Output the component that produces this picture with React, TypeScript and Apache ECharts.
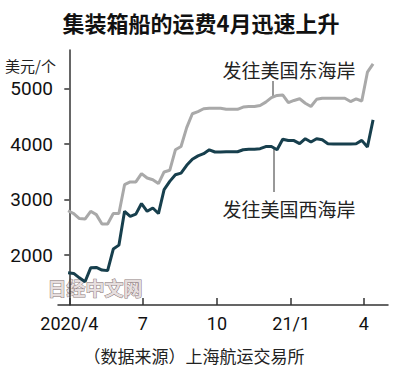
import React, { useEffect, useRef } from "react";
import * as echarts from "echarts";

// Weekly freight index (USD per container), first week ~2020-04-01
const startDay = -1.5; // days after 2020-04-01
const stepDays = 7;

const eastCoast = [
  2800, 2750, 2660, 2650, 2790, 2730, 2560, 2560, 2750, 2750,
  3270, 3320, 3320, 3470, 3390, 3360, 3290, 3500, 3530, 3900,
  3960, 4300, 4550, 4590, 4640, 4650, 4650, 4650, 4630, 4630,
  4630, 4670, 4680, 4680, 4700, 4760, 4840, 4880, 4890, 4750,
  4790, 4820, 4740, 4680, 4810, 4830, 4830, 4830, 4830, 4830,
  4770, 4820, 4780, 5300, 5450,
];

const westCoast = [
  1680, 1670, 1590, 1520, 1770, 1777, 1730, 1720, 2110, 2180,
  2790, 2700, 2740, 2930, 2790, 2850, 2750, 3180, 3330, 3450,
  3480, 3620, 3730, 3790, 3830, 3900, 3860, 3860, 3865, 3865,
  3865, 3900, 3910, 3910, 3920, 3958, 3958, 3900, 4090, 4066,
  4066, 4010, 4100, 4040, 4100, 4080, 4010, 4006, 4006, 4006,
  4006, 4010, 4070, 3950, 4440,
];

const xTickDays = [0, 91, 183, 275, 365];
const xTickLabels = ["2020/4", "7", "10", "21/1", "4"];
const yTicks = [2000, 3000, 4000, 5000];

const title = "集装箱船的运费4月迅速上升";
const unitLabel = "美元/个";
const eastLabel = "发往美国东海岸";
const westLabel = "发往美国西海岸";
const sourceLabel = "（数据来源）上海航运交易所";
const watermark = "日经中文网";

const numFont = '"Roboto", "Liberation Sans", sans-serif';
const cjkFont = '"Noto Sans CJK SC", sans-serif';

export default function App() {
  const ref = useRef<HTMLDivElement>(null);

  useEffect(() => {
    if (!ref.current) return;
    const chart = echarts.init(ref.current, null, { renderer: "svg" });
    const toPairs = (arr: number[]) => arr.map((v, i) => [startDay + i * stepDays, v]);
    const axisColor = "#333";

    chart.setOption({
      animation: false,
      backgroundColor: "#fff",
      grid: { left: 58, right: 12, top: 50, bottom: 71 },
      xAxis: {
        type: "value",
        min: -14,
        max: 395,
        splitLine: { show: false },
        axisLine: { show: true, onZero: false, lineStyle: { color: axisColor, width: 1.5 } },
        axisTick: {
          show: true,
          inside: true,
          length: 7,
          customValues: xTickDays,
          lineStyle: { color: axisColor, width: 1.5 },
        },
        axisLabel: {
          customValues: xTickDays,
          formatter: (v: number) => {
            const i = xTickDays.indexOf(v);
            return i >= 0 ? xTickLabels[i] : "";
          },
          color: "#111",
          fontSize: 18,
          fontFamily: numFont,
          margin: 9,
        },
      },
      yAxis: {
        type: "value",
        min: 1100,
        max: 5700,
        splitLine: { show: false },
        axisLine: { show: true, lineStyle: { color: axisColor, width: 1.5 } },
        axisTick: {
          show: true,
          length: 5,
          customValues: yTicks,
          lineStyle: { color: axisColor, width: 1.5 },
        },
        axisLabel: {
          customValues: yTicks,
          formatter: (v: number) => String(v),
          color: "#111",
          fontSize: 19,
          fontFamily: numFont,
          margin: 5,
        },
      },
      series: [
        {
          name: eastLabel,
          type: "line",
          data: toPairs(eastCoast),
          symbol: "none",
          lineStyle: { color: "#a9a9a9", width: 3 },
          z: 3,
        },
        {
          name: westLabel,
          type: "line",
          data: toPairs(westCoast),
          symbol: "none",
          lineStyle: { color: "#173f4d", width: 3 },
          z: 4,
        },
      ],
      graphic: [
        {
          type: "text",
          x: 201,
          y: 22,
          style: {
            text: title,
            fill: "#111",
            font: `bold 22px ${cjkFont}`,
            textAlign: "center",
            textVerticalAlign: "middle",
          },
        },
        {
          type: "text",
          x: 5,
          y: 65,
          style: {
            text: unitLabel,
            fill: "#222",
            font: `15px ${cjkFont}`,
            textAlign: "left",
            textVerticalAlign: "middle",
          },
        },
        {
          type: "text",
          x: 289,
          y: 69,
          style: {
            text: eastLabel,
            fill: "#222",
            font: `19px ${cjkFont}`,
            textAlign: "center",
            textVerticalAlign: "middle",
          },
        },
        {
          type: "line",
          shape: { x1: 273, y1: 81, x2: 273, y2: 96 },
          style: { stroke: "#333", lineWidth: 1 },
        },
        {
          type: "line",
          shape: { x1: 274, y1: 149, x2: 274, y2: 192 },
          style: { stroke: "#333", lineWidth: 1 },
        },
        {
          type: "text",
          x: 289,
          y: 208,
          style: {
            text: westLabel,
            fill: "#222",
            font: `19px ${cjkFont}`,
            textAlign: "center",
            textVerticalAlign: "middle",
          },
        },
        {
          type: "text",
          x: 95,
          y: 287,
          style: {
            text: watermark,
            fill: "#e6dede",
            stroke: "#8a7b7b",
            lineWidth: 1,
            font: `bold 19px ${cjkFont}`,
            textAlign: "center",
            textVerticalAlign: "middle",
          },
        },
        {
          type: "text",
          x: 194,
          y: 355,
          style: {
            text: sourceLabel,
            fill: "#222",
            font: `17px ${cjkFont}`,
            textAlign: "center",
            textVerticalAlign: "middle",
          },
        },
      ],
    });

    return () => chart.dispose();
  }, []);

  return <div ref={ref} style={{ width: 400, height: 376, position: "absolute", left: 0, top: 0 }} />;
}
